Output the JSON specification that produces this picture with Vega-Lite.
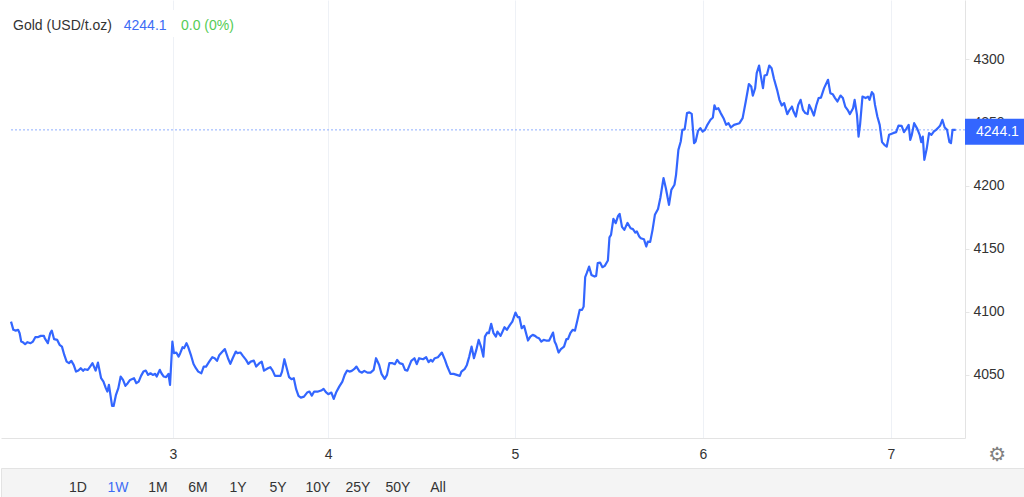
{
  "$schema": "https://vega.github.io/schema/vega-lite/v6.json",
  "padding": 0,
  "spacing": 0,
  "background": "white",
  "config": {
    "view": {"stroke": null},
    "font": "Arial, Liberation Sans, sans-serif",
    "text": {"font": "Arial, Liberation Sans, sans-serif"}
  },
  "datasets": {
    "gold": [
      {"t":0.0,"p":4092.2},{"t":0.3,"p":4085.7},{"t":0.6,"p":4085.1},{"t":0.9,"p":4085.7},{"t":1.1,"p":4083.0},
      {"t":1.3,"p":4076.4},{"t":1.5,"p":4075.9},{"t":1.8,"p":4074.3},{"t":2.1,"p":4075.9},{"t":2.5,"p":4075.1},
      {"t":2.8,"p":4076.4},{"t":3.1,"p":4079.9},{"t":3.4,"p":4079.9},{"t":3.8,"p":4080.9},{"t":4.2,"p":4080.9},
      {"t":4.3,"p":4079.1},{"t":4.7,"p":4075.1},{"t":5.0,"p":4083.0},{"t":5.2,"p":4085.1},{"t":5.5,"p":4078.3},
      {"t":5.9,"p":4077.7},{"t":6.2,"p":4073.8},{"t":6.5,"p":4072.4},{"t":6.8,"p":4065.8},{"t":7.1,"p":4060.5},
      {"t":7.4,"p":4059.3},{"t":7.7,"p":4061.1},{"t":8.0,"p":4057.9},{"t":8.3,"p":4052.6},{"t":8.6,"p":4053.4},
      {"t":8.9,"p":4055.3},{"t":9.2,"p":4053.2},{"t":9.4,"p":4054.5},{"t":9.8,"p":4054.0},{"t":10.1,"p":4056.6},
      {"t":10.4,"p":4059.3},{"t":10.8,"p":4053.4},{"t":11.1,"p":4059.7},{"t":11.5,"p":4047.4},{"t":11.8,"p":4044.7},
      {"t":12.1,"p":4039.5},{"t":12.3,"p":4036.8},{"t":12.5,"p":4042.1},{"t":12.9,"p":4025.4},{"t":13.1,"p":4025.4},
      {"t":13.4,"p":4034.2},{"t":13.7,"p":4039.5},{"t":14.0,"p":4048.7},{"t":14.3,"p":4046.0},{"t":14.6,"p":4041.3},
      {"t":14.9,"p":4043.4},{"t":15.2,"p":4046.0},{"t":15.7,"p":4047.4},{"t":16.0,"p":4043.4},{"t":16.3,"p":4044.7},
      {"t":16.6,"p":4049.2},{"t":16.9,"p":4052.6},{"t":17.2,"p":4053.4},{"t":17.5,"p":4050.0},{"t":17.8,"p":4051.3},
      {"t":18.1,"p":4050.0},{"t":18.4,"p":4050.8},{"t":18.6,"p":4048.7},{"t":19.0,"p":4054.0},{"t":19.2,"p":4051.3},
      {"t":19.5,"p":4048.7},{"t":19.8,"p":4048.2},{"t":20.1,"p":4050.8},{"t":20.3,"p":4042.1},{"t":20.6,"p":4076.4},
      {"t":20.8,"p":4067.2},{"t":21.1,"p":4067.7},{"t":21.4,"p":4064.5},{"t":21.6,"p":4067.2},{"t":21.9,"p":4071.9},
      {"t":22.1,"p":4071.2},{"t":22.4,"p":4075.1},{"t":22.6,"p":4072.4},{"t":23.0,"p":4065.0},{"t":23.3,"p":4058.6},
      {"t":23.6,"p":4055.3},{"t":23.9,"p":4052.6},{"t":24.3,"p":4051.3},{"t":24.6,"p":4056.6},{"t":24.9,"p":4056.6},
      {"t":25.3,"p":4060.5},{"t":25.7,"p":4064.0},{"t":26.0,"p":4063.2},{"t":26.3,"p":4061.1},{"t":26.6,"p":4065.8},
      {"t":27.0,"p":4068.5},{"t":27.3,"p":4070.4},{"t":27.7,"p":4063.2},{"t":28.0,"p":4058.7},{"t":28.3,"p":4063.2},
      {"t":28.7,"p":4068.5},{"t":28.9,"p":4067.2},{"t":29.3,"p":4067.7},{"t":29.6,"p":4065.1},{"t":30.0,"p":4061.9},
      {"t":30.3,"p":4058.7},{"t":30.6,"p":4060.5},{"t":31.0,"p":4061.3},{"t":31.3,"p":4056.6},{"t":31.7,"p":4059.3},
      {"t":32.0,"p":4060.5},{"t":32.3,"p":4053.4},{"t":32.8,"p":4055.3},{"t":33.1,"p":4056.1},{"t":33.4,"p":4053.4},
      {"t":33.7,"p":4049.2},{"t":34.0,"p":4049.2},{"t":34.4,"p":4049.2},{"t":34.6,"p":4052.6},{"t":34.9,"p":4062.4},
      {"t":35.2,"p":4055.3},{"t":35.5,"p":4048.2},{"t":35.8,"p":4046.6},{"t":36.1,"p":4047.4},{"t":36.4,"p":4038.7},
      {"t":36.7,"p":4033.4},{"t":37.0,"p":4032.0},{"t":37.4,"p":4032.8},{"t":37.8,"p":4036.0},{"t":38.1,"p":4036.8},
      {"t":38.4,"p":4033.6},{"t":38.7,"p":4036.8},{"t":39.2,"p":4036.8},{"t":39.6,"p":4037.6},{"t":39.9,"p":4038.9},
      {"t":40.2,"p":4036.3},{"t":40.5,"p":4034.7},{"t":40.9,"p":4036.0},{"t":41.2,"p":4031.0},{"t":41.5,"p":4036.0},
      {"t":41.9,"p":4040.7},{"t":42.3,"p":4044.7},{"t":42.6,"p":4050.0},{"t":42.9,"p":4053.4},{"t":43.2,"p":4052.6},
      {"t":43.5,"p":4053.2},{"t":43.8,"p":4054.5},{"t":44.1,"p":4056.6},{"t":44.5,"p":4052.6},{"t":44.8,"p":4051.8},
      {"t":45.1,"p":4053.2},{"t":45.5,"p":4051.8},{"t":45.9,"p":4051.8},{"t":46.3,"p":4054.0},{"t":46.6,"p":4063.2},
      {"t":47.0,"p":4057.9},{"t":47.3,"p":4050.8},{"t":47.7,"p":4046.8},{"t":48.0,"p":4050.0},{"t":48.3,"p":4059.3},
      {"t":48.7,"p":4059.3},{"t":49.0,"p":4058.5},{"t":49.3,"p":4061.9},{"t":49.6,"p":4059.3},{"t":50.0,"p":4058.5},
      {"t":50.3,"p":4054.0},{"t":50.6,"p":4053.4},{"t":51.1,"p":4061.1},{"t":51.5,"p":4063.2},{"t":51.8,"p":4058.5},
      {"t":52.1,"p":4063.2},{"t":52.6,"p":4062.4},{"t":53.0,"p":4064.0},{"t":53.3,"p":4060.1},{"t":53.6,"p":4061.9},
      {"t":53.8,"p":4060.5},{"t":54.1,"p":4063.2},{"t":54.5,"p":4064.0},{"t":55.0,"p":4067.7},{"t":55.4,"p":4061.9},
      {"t":55.7,"p":4056.6},{"t":56.1,"p":4050.8},{"t":56.5,"p":4050.8},{"t":56.9,"p":4050.0},{"t":57.3,"p":4049.2},
      {"t":57.5,"p":4052.6},{"t":57.9,"p":4054.5},{"t":58.2,"p":4057.9},{"t":58.5,"p":4064.5},{"t":58.8,"p":4072.4},
      {"t":59.1,"p":4063.2},{"t":59.4,"p":4069.8},{"t":59.7,"p":4077.7},{"t":60.0,"p":4072.4},{"t":60.3,"p":4064.5},
      {"t":60.5,"p":4080.3},{"t":60.8,"p":4083.5},{"t":61.0,"p":4083.0},{"t":61.3,"p":4090.4},{"t":61.6,"p":4083.0},
      {"t":61.9,"p":4080.3},{"t":62.1,"p":4084.3},{"t":62.5,"p":4080.9},{"t":63.0,"p":4087.8},{"t":63.3,"p":4085.7},
      {"t":63.7,"p":4089.6},{"t":64.0,"p":4092.2},{"t":64.4,"p":4099.4},{"t":64.7,"p":4095.7},{"t":64.9,"p":4095.7},
      {"t":65.2,"p":4087.0},{"t":65.5,"p":4088.8},{"t":65.7,"p":4084.3},{"t":66.0,"p":4077.2},{"t":66.3,"p":4080.3},
      {"t":66.6,"p":4081.7},{"t":66.9,"p":4080.9},{"t":67.1,"p":4079.9},{"t":67.4,"p":4079.1},{"t":67.7,"p":4076.4},
      {"t":68.0,"p":4077.7},{"t":68.3,"p":4077.2},{"t":68.7,"p":4077.2},{"t":69.2,"p":4083.5},{"t":69.4,"p":4076.4},
      {"t":69.6,"p":4073.8},{"t":69.9,"p":4067.7},{"t":70.2,"p":4070.4},{"t":70.6,"p":4072.4},{"t":70.9,"p":4078.3},
      {"t":71.1,"p":4078.3},{"t":71.4,"p":4083.0},{"t":71.7,"p":4085.7},{"t":72.0,"p":4085.1},{"t":72.3,"p":4093.0},
      {"t":72.6,"p":4101.5},{"t":72.9,"p":4101.5},{"t":73.1,"p":4104.1},{"t":73.3,"p":4127.4},{"t":73.5,"p":4130.6},
      {"t":73.8,"p":4135.8},{"t":74.1,"p":4129.2},{"t":74.5,"p":4127.9},{"t":74.7,"p":4128.4},{"t":74.9,"p":4138.5},
      {"t":75.2,"p":4139.0},{"t":75.5,"p":4135.3},{"t":75.8,"p":4136.4},{"t":76.2,"p":4140.6},{"t":76.4,"p":4159.0},
      {"t":76.6,"p":4160.9},{"t":76.9,"p":4173.6},{"t":77.2,"p":4170.2},{"t":77.5,"p":4176.0},{"t":77.7,"p":4177.6},
      {"t":78.0,"p":4167.3},{"t":78.3,"p":4164.9},{"t":78.7,"p":4170.4},{"t":79.1,"p":4166.2},{"t":79.4,"p":4165.5},
      {"t":79.7,"p":4162.8},{"t":79.9,"p":4163.6},{"t":80.2,"p":4159.6},{"t":80.4,"p":4158.3},{"t":80.8,"p":4157.5},
      {"t":81.1,"p":4151.7},{"t":81.3,"p":4155.6},{"t":81.6,"p":4155.4},{"t":81.9,"p":4164.9},{"t":82.2,"p":4176.8},
      {"t":82.6,"p":4181.5},{"t":82.9,"p":4190.3},{"t":83.3,"p":4205.9},{"t":83.6,"p":4197.9},{"t":84.0,"p":4184.7},
      {"t":84.3,"p":4196.6},{"t":84.7,"p":4200.6},{"t":84.9,"p":4208.5},{"t":85.2,"p":4228.3},{"t":85.5,"p":4234.9},
      {"t":85.7,"p":4244.1},{"t":86.0,"p":4244.5},{"t":86.3,"p":4257.4},{"t":86.6,"p":4258.0},{"t":86.9,"p":4256.8},
      {"t":87.2,"p":4233.6},{"t":87.4,"p":4234.9},{"t":87.7,"p":4243.3},{"t":88.0,"p":4245.5},{"t":88.3,"p":4242.8},
      {"t":88.6,"p":4244.1},{"t":88.9,"p":4248.1},{"t":89.3,"p":4252.1},{"t":89.6,"p":4253.9},{"t":89.8,"p":4263.6},
      {"t":90.0,"p":4260.5},{"t":90.3,"p":4261.3},{"t":90.6,"p":4257.4},{"t":91.0,"p":4252.9},{"t":91.3,"p":4248.1},
      {"t":91.6,"p":4249.4},{"t":91.9,"p":4246.0},{"t":92.3,"p":4248.1},{"t":93.0,"p":4249.4},{"t":93.4,"p":4253.4},
      {"t":93.8,"p":4266.6},{"t":94.2,"p":4280.4},{"t":94.5,"p":4278.5},{"t":94.7,"p":4271.3},{"t":95.0,"p":4277.2},
      {"t":95.2,"p":4289.1},{"t":95.5,"p":4295.1},{"t":95.7,"p":4287.7},{"t":96.0,"p":4277.2},{"t":96.2,"p":4287.2},
      {"t":96.5,"p":4287.7},{"t":96.8,"p":4295.1},{"t":97.1,"p":4293.0},{"t":97.4,"p":4284.6},{"t":97.8,"p":4275.8},
      {"t":98.1,"p":4267.9},{"t":98.4,"p":4263.4},{"t":98.7,"p":4265.3},{"t":99.1,"p":4256.6},{"t":99.4,"p":4260.0},
      {"t":99.7,"p":4262.6},{"t":99.9,"p":4258.6},{"t":100.2,"p":4254.7},{"t":100.5,"p":4263.9},{"t":100.8,"p":4267.9},
      {"t":101.1,"p":4260.0},{"t":101.4,"p":4257.4},{"t":101.7,"p":4256.6},{"t":101.9,"p":4263.9},{"t":102.2,"p":4260.0},
      {"t":102.5,"p":4255.5},{"t":102.8,"p":4263.4},{"t":103.1,"p":4269.3},{"t":103.4,"p":4269.7},{"t":103.8,"p":4277.2},
      {"t":104.3,"p":4283.8},{"t":104.6,"p":4273.2},{"t":104.9,"p":4272.4},{"t":105.2,"p":4269.3},{"t":105.5,"p":4266.6},
      {"t":105.9,"p":4271.3},{"t":106.2,"p":4269.3},{"t":106.5,"p":4262.6},{"t":106.8,"p":4260.0},{"t":107.1,"p":4256.6},
      {"t":107.5,"p":4261.3},{"t":107.7,"p":4267.9},{"t":108.0,"p":4256.0},{"t":108.2,"p":4238.8},{"t":108.4,"p":4248.7},
      {"t":108.7,"p":4270.5},{"t":109.1,"p":4269.3},{"t":109.4,"p":4270.5},{"t":109.6,"p":4267.9},{"t":109.9,"p":4274.0},
      {"t":110.1,"p":4272.4},{"t":110.3,"p":4263.9},{"t":110.6,"p":4254.7},{"t":110.9,"p":4248.1},{"t":111.2,"p":4234.4},
      {"t":111.5,"p":4232.3},{"t":111.8,"p":4230.9},{"t":112.1,"p":4240.2},{"t":112.6,"p":4241.5},{"t":113.0,"p":4242.3},
      {"t":113.3,"p":4247.5},{"t":113.7,"p":4247.3},{"t":114.0,"p":4242.3},{"t":114.3,"p":4244.9},{"t":114.6,"p":4248.1},
      {"t":114.8,"p":4236.2},{"t":115.0,"p":4240.2},{"t":115.3,"p":4249.4},{"t":115.7,"p":4244.9},{"t":116.0,"p":4240.2},
      {"t":116.2,"p":4234.4},{"t":116.4,"p":4238.8},{"t":116.6,"p":4220.4},{"t":116.9,"p":4229.1},{"t":117.2,"p":4241.5},
      {"t":117.5,"p":4240.2},{"t":117.8,"p":4242.8},{"t":118.1,"p":4244.1},{"t":118.4,"p":4246.0},{"t":118.6,"p":4247.3},
      {"t":118.9,"p":4252.1},{"t":119.2,"p":4246.0},{"t":119.5,"p":4244.1},{"t":119.8,"p":4234.4},{"t":120.0,"p":4233.6},
      {"t":120.2,"p":4244.1},{"t":120.4,"p":4244.1},{"t":120.6,"p":4244.1}
    ],
    "ranges": [
      {"label":"1D"},{"label":"1W"},{"label":"1M"},{"label":"6M"},{"label":"1Y"},
      {"label":"5Y"},{"label":"10Y"},{"label":"25Y"},{"label":"50Y"},{"label":"All"}
    ]
  },
  "vconcat": [
    {
      "width": 964,
      "height": 438,
      "layer": [
        {
          "data": {"values": [{}]},
          "mark": {"type": "rect", "fill": "white"},
          "encoding": {
            "x": {"datum": -1.28, "type": "quantitative"},
            "x2": {"datum": 30},
            "y": {"datum": 4339, "type": "quantitative"},
            "y2": {"datum": 4317.7}
          }
        },
        {
          "data": {"values": [{}]},
          "mark": {"type": "rule", "color": "#8eaeff", "strokeDash": [2, 2], "strokeWidth": 1},
          "encoding": {
            "x": {"datum": 0, "type": "quantitative"},
            "x2": {"datum": 121.79},
            "y": {"datum": 4244.1, "type": "quantitative"}
          }
        },
        {
          "data": {"name": "gold"},
          "mark": {"type": "line", "color": "#3366ff", "strokeWidth": 2.2, "strokeJoin": "round"},
          "encoding": {
            "x": {
              "field": "t",
              "type": "quantitative",
              "scale": {"domain": [-1.28, 121.79], "nice": false, "zero": false},
              "axis": {
                "title": null,
                "values": [20.68, 40.47, 64.34, 88.34, 112.34],
                "labelExpr": "datum.value < 30 ? '3' : datum.value < 50 ? '4' : datum.value < 75 ? '5' : datum.value < 100 ? '6' : '7'",
                "grid": true,
                "gridColor": "#eef1f6",
                "ticks": false,
                "domainColor": "#e3e3e3",
                "labelFontSize": 14,
                "labelColor": "#333333",
                "labelPadding": 9,
                "minExtent": 29,
                "maxExtent": 29
              }
            },
            "y": {
              "field": "p",
              "type": "quantitative",
              "scale": {"domain": [4000, 4347], "nice": false, "zero": false},
              "axis": {
                "orient": "right",
                "title": null,
                "format": "d",
                "values": [4050, 4100, 4150, 4200, 4250, 4300],
                "gridColor": "#e6e6e6",
                "tickColor": "#e6e6e6",
                "tickSize": 4,
                "labelPadding": 4,
                "labelFontSize": 14,
                "labelColor": "#333333",
                "domainColor": "#e3e3e3",
                "minExtent": 60,
                "maxExtent": 60
              }
            }
          }
        },
        {
          "data": {"values": [{}]},
          "mark": {"type": "rect", "fill": "#3366ff"},
          "encoding": {
            "x": {"datum": 121.79, "type": "quantitative"},
            "x2": {"datum": 129.45},
            "y": {"datum": 4252.9, "type": "quantitative"},
            "y2": {"datum": 4232.3}
          }
        },
        {
          "data": {"values": [{}]},
          "mark": {"type": "text", "text": "4244.1", "color": "white", "fontSize": 14, "align": "left", "baseline": "middle"},
          "encoding": {
            "x": {"datum": 123.2, "type": "quantitative"},
            "y": {"datum": 4242.6, "type": "quantitative"}
          }
        },
        {
          "data": {"values": [{}]},
          "mark": {"type": "text", "text": "Gold (USD/t.oz)", "color": "#333333", "fontSize": 14, "align": "left", "baseline": "middle"},
          "encoding": {
            "x": {"datum": 0.26, "type": "quantitative"},
            "y": {"datum": 4326.4, "type": "quantitative"}
          }
        },
        {
          "data": {"values": [{}]},
          "mark": {"type": "text", "text": "4244.1", "color": "#3d6cf5", "fontSize": 14, "align": "left", "baseline": "middle"},
          "encoding": {
            "x": {"datum": 14.39, "type": "quantitative"},
            "y": {"datum": 4326.4, "type": "quantitative"}
          }
        },
        {
          "data": {"values": [{}]},
          "mark": {"type": "text", "text": "0.0 (0%)", "color": "#55cc55", "fontSize": 14, "align": "left", "baseline": "middle"},
          "encoding": {
            "x": {"datum": 21.7, "type": "quantitative"},
            "y": {"datum": 4326.4, "type": "quantitative"}
          }
        },
        {
          "data": {"values": [{}]},
          "mark": {"type": "text", "text": "⚙", "color": "#808080", "fontSize": 20, "font": "DejaVu Sans", "align": "center", "baseline": "middle"},
          "encoding": {
            "x": {"datum": 125.9, "type": "quantitative"},
            "y": {"datum": 3986.6, "type": "quantitative"}
          }
        }
      ]
    },
    {
      "width": 1024,
      "height": 30,
      "view": {"fill": "#f4f4f4", "stroke": "#e3e3e3"},
      "data": {"name": "ranges"},
      "mark": {"type": "text", "fontSize": 14, "baseline": "middle", "dy": 5},
      "encoding": {
        "x": {
          "field": "label",
          "type": "ordinal",
          "sort": null,
          "scale": {"type": "point", "range": [77, 437], "padding": 0},
          "axis": null
        },
        "text": {"field": "label"},
        "color": {
          "condition": {"test": "datum.label === '1W'", "value": "#3d6cf5"},
          "value": "#333333"
        }
      }
    }
  ]
}
